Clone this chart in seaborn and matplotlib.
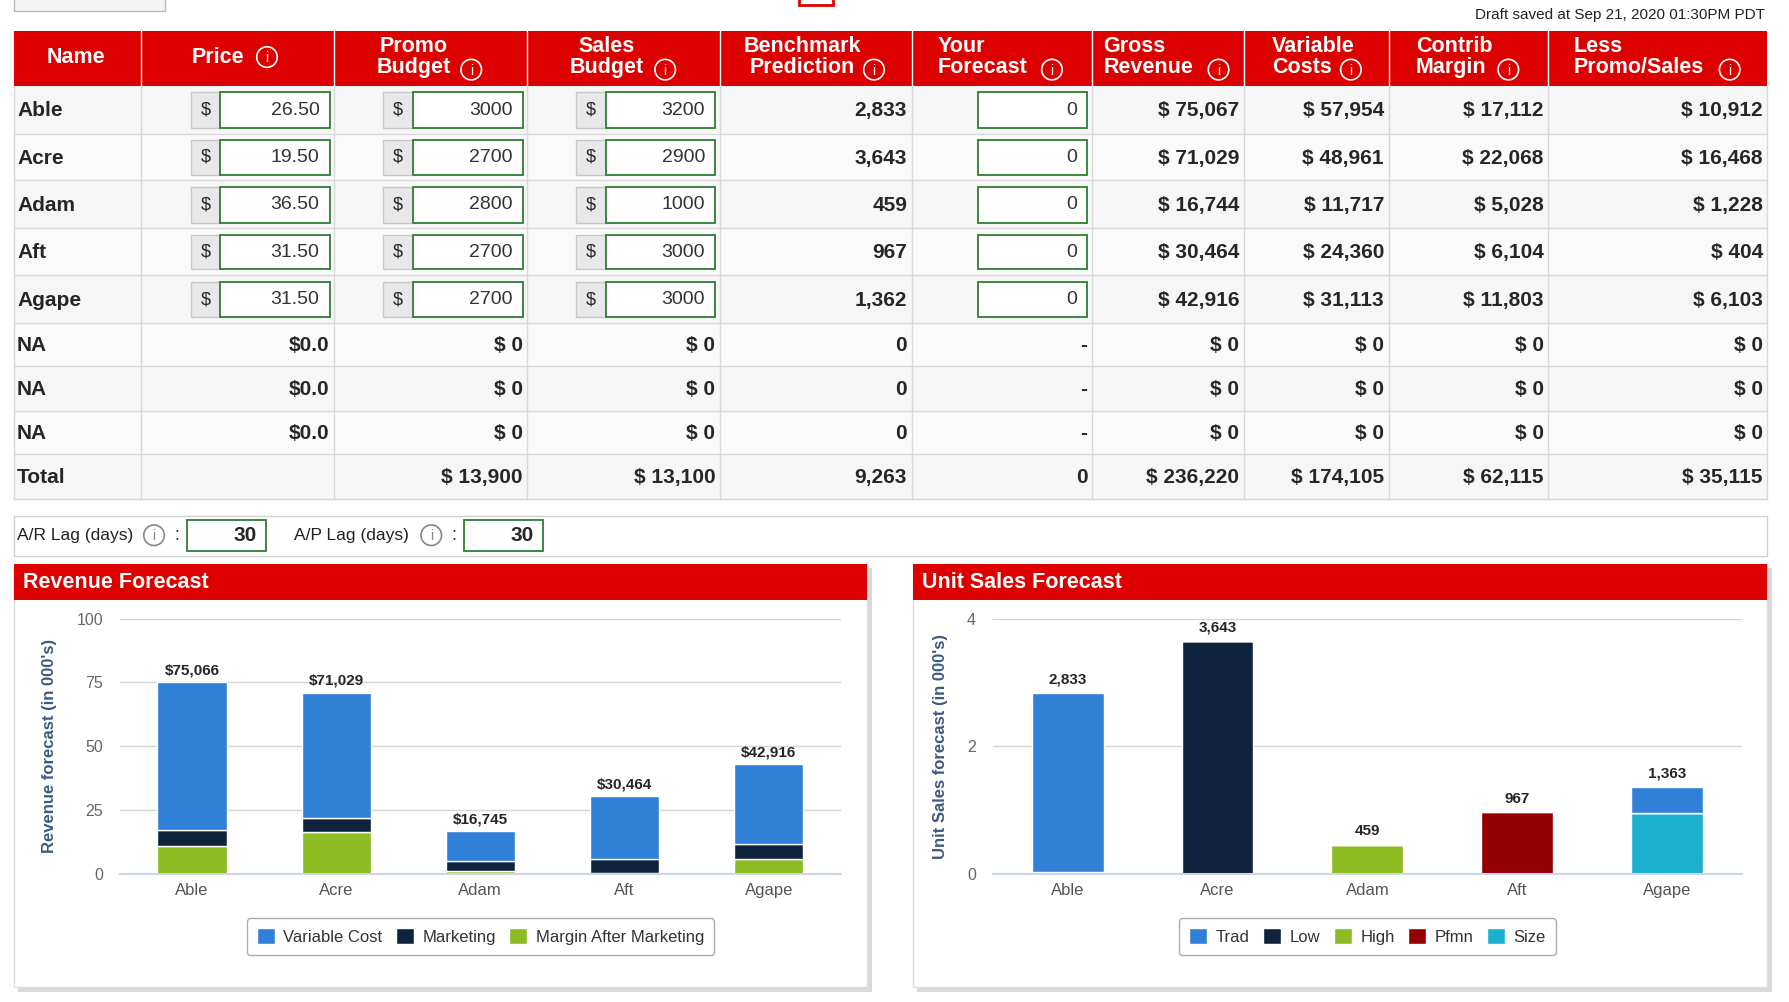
import matplotlib
matplotlib.use("Agg")
import matplotlib.pyplot as plt
from matplotlib.patches import Rectangle, Circle
import seaborn as sns
import pandas as pd
import numpy as np

sns.set_theme(style="white")
plt.rcParams['font.family'] = ['Liberation Sans', 'DejaVu Sans']

# ---------------- data ----------------
names = ['Able', 'Acre', 'Adam', 'Aft', 'Agape']
price = [26.50, 19.50, 36.50, 31.50, 31.50]
promo = [3000, 2700, 2800, 2700, 2700]
sales = [3200, 2900, 1000, 3000, 3000]
bench = [2833, 3643, 459, 967, 1362]
forecast = [0, 0, 0, 0, 0]
gross = [75067, 71029, 16744, 30464, 42916]
varcost = [57954, 48961, 11717, 24360, 31113]
contrib = [17112, 22068, 5028, 6104, 11803]
lesspromo = [10912, 16468, 1228, 404, 6103]
totals = ['', '$ 13,900', '$ 13,100', '9,263', '0', '$ 236,220', '$ 174,105', '$ 62,115', '$ 35,115']

rev_labels = ['$75,066', '$71,029', '$16,745', '$30,464', '$42,916']
rev_var = [57.95, 48.96, 11.72, 24.36, 31.11]
rev_mkt = [6.20, 5.60, 3.80, 5.70, 5.70]
rev_margin = [10.91, 16.47, 1.23, 0.40, 6.10]

unit_labels = ['2,833', '3,643', '459', '967', '1,363']
seg_names = ['Trad', 'Low', 'High', 'Pfmn', 'Size']
unit_low = [0.03, 3.643, 0, 0, 0]
unit_size = [0, 0, 0, 0, 0.950]
unit_high = [0, 0, 0.459, 0, 0]
unit_pfmn = [0, 0, 0, 0.967, 0]
unit_trad = [2.803, 0, 0, 0, 0.413]

RED = '#dd0000'
BLUE = '#3080d8'
NAVY = '#0f233c'
GREEN = '#8cbc22'
DRED = '#920000'
CYAN = '#1cafcf'

W, H = 1568, 878
fig = plt.figure(figsize=(17.89, 10.02), dpi=100)
fig.patch.set_facecolor('white')
bg = fig.add_axes([0, 0, 1, 1])
bg.set_xlim(0, W); bg.set_ylim(H, 0); bg.axis('off')

def rect(x0, y0, x1, y1, fc, ec='none', lw=1, z=1):
    bg.add_patch(Rectangle((x0, y0), x1 - x0, y1 - y0, facecolor=fc, edgecolor=ec, lw=lw, zorder=z))

def icon(x, y, color, r=9):
    bg.add_patch(Circle((x, y), r, facecolor='none', edgecolor=color, lw=1.2, zorder=5))
    bg.text(x, y + 1, 'i', color=color, fontsize=10, ha='center', va='center', zorder=6)

# top bits
rect(12, -5, 145, 10, '#f4f4f4', '#bbbbbb')
rect(700, -10, 730, 4, 'none', RED, lw=2)
bg.text(1547, 13, 'Draft saved at Sep 21, 2020 01:30PM PDT', fontsize=11, ha='right', va='center', color='#222222')

# ---------------- table ----------------
cols = [12, 124, 293, 462, 631, 799, 957, 1090, 1217, 1357, 1549]
rows = [75, 117, 158, 200, 241, 283, 321, 360, 398, 437]
rect(12, 27, 1549, 75, RED)
for c in cols[1:-1]:
    bg.plot([c, c], [27, 75], color='white', lw=1, zorder=2)
hdrs = [('Name', None, 41), ('Price', 234, 168), ('Promo\nBudget', 413, 330), ('Sales\nBudget', 583, 499),
        ('Benchmark\nPrediction', 766, 652), ('Your\nForecast', 922, 822), ('Gross\nRevenue', 1068, 967),
        ('Variable\nCosts', 1184, 1115), ('Contrib\nMargin', 1322, 1241), ('Less\nPromo/Sales', 1516, 1379)]
for t, ix, tx in hdrs:
    bg.text(tx, 50, t, color='white', fontsize=15.5, fontweight='bold', ha='left', va='center',
            multialignment='center' if tx < 700 else 'left', linespacing=0.95, zorder=3)
    if ix:
        icon(ix, 61 if '\n' in t else 50, 'white')

for i in range(len(rows) - 1):
    rect(12, rows[i], 1549, rows[i + 1], '#f6f6f6' if i % 2 == 0 else '#fafafa', z=0.5)
    bg.plot([12, 1549], [rows[i + 1], rows[i + 1]], color='#d8d8d8', lw=1, zorder=2)
for c in cols:
    bg.plot([c, c], [75, 437], color='#d8d8d8', lw=1, zorder=2)

def rt(col, y, s):
    bg.text(cols[col + 1] - 4, y, s, fontsize=15, fontweight='bold', ha='right', va='center', zorder=4)

def inbox(d0, b0, b1, y0, y1, val):
    if d0 is not None:
        rect(d0, y0, b0, y1, '#e8e8e8', '#c8c8c8', z=3)
        bg.text((d0 + b0) / 2, (y0 + y1) / 2, '$', fontsize=13, ha='center', va='center', zorder=4)
    rect(b0, y0, b1, y1, 'white', '#2e7d32', lw=1.3, z=3)
    bg.text(b1 - 9, (y0 + y1) / 2, val, fontsize=14, ha='right', va='center', color='#333333', zorder=4)

for i, n in enumerate(names):
    y0, y1 = rows[i], rows[i + 1]
    yc = (y0 + y1) / 2 + 1
    bg.text(15, yc, n, fontsize=15, fontweight='bold', ha='left', va='center', zorder=4)
    inbox(167, 193, 289, y0 + 6, y1 - 5, f'{price[i]:.2f}')
    inbox(336, 362, 458, y0 + 6, y1 - 5, f'{promo[i]}')
    inbox(505, 531, 627, y0 + 6, y1 - 5, f'{sales[i]}')
    rt(4, yc, f'{bench[i]:,}')
    inbox(None, 857, 953, y0 + 6, y1 - 5, f'{forecast[i]}')
    rt(6, yc, f'$ {gross[i]:,}')
    rt(7, yc, f'$ {varcost[i]:,}')
    rt(8, yc, f'$ {contrib[i]:,}')
    rt(9, yc, f'$ {lesspromo[i]:,}')
for j in range(3):
    i = 5 + j
    yc = (rows[i] + rows[i + 1]) / 2 + 1
    bg.text(15, yc, 'NA', fontsize=15, fontweight='bold', va='center', zorder=4)
    for col, s in zip(range(1, 10), ['$0.0', '$ 0', '$ 0', '0', '-', '$ 0', '$ 0', '$ 0', '$ 0']):
        rt(col, yc, s)
yc = (rows[8] + rows[9]) / 2 + 1
bg.text(15, yc, 'Total', fontsize=15, fontweight='bold', va='center', zorder=4)
for col, s in enumerate(totals):
    if s:
        rt(col + 1, yc, s)

# lag strip
rect(12, 452, 1549, 487, 'white', '#d0d0d0')
for lx, label in [(15, 'A/R Lag (days)'), (258, 'A/P Lag (days)')]:
    bg.text(lx, 469, label, fontsize=12.5, va='center', color='#222222')
    icon(lx + 120, 469, '#888888', r=9)
    bg.text(lx + 138, 469, ':', fontsize=13, va='center')
    rect(lx + 149, 456, lx + 218, 483, 'white', '#2e7d32', lw=1.3, z=3)
    bg.text(lx + 210, 469, '30', fontsize=15, fontweight='bold', ha='right', va='center', zorder=4)

# panels
for x0, x1, title in [(12, 760, 'Revenue Forecast'), (800, 1549, 'Unit Sales Forecast')]:
    rect(x0 + 4, 498, x1 + 4, 869, '#d9d9d9', z=0.2)
    rect(x0, 494, x1, 865, 'white', '#dddddd', z=0.3)
    rect(x0, 494, x1, 526, RED, z=0.4)
    bg.text(x0 + 8, 510, title, color='white', fontsize=15.5, fontweight='bold', va='center')

def add_ax(x0, y0, x1, y1):
    return fig.add_axes([x0 / W, 1 - y1 / H, (x1 - x0) / W, (y1 - y0) / H])

def style(ax, ymax, yticks, ylabel):
    ax.set_ylim(0, ymax)
    ax.set_xlim(-0.5, 4.5)
    ax.set_yticks(yticks)
    ax.yaxis.grid(True, color='#d5d5d5', lw=1)
    ax.set_axisbelow(True)
    for s in ['top', 'right', 'left']:
        ax.spines[s].set_visible(False)
    ax.spines['bottom'].set_color('#ccd6eb')
    ax.spines['bottom'].set_linewidth(1.5)
    ax.tick_params(axis='y', labelsize=11.5, labelcolor='#666666', length=0, pad=12)
    ax.tick_params(axis='x', labelsize=12, labelcolor='#555555', length=0, pad=6)
    ax.set_xticks([-0.5, 0.5, 1.5, 2.5, 3.5, 4.5], minor=True)
    ax.tick_params(axis='x', which='minor', length=8, color='#ccd6eb', width=1.2)
    ax.set_xlabel('')
    ax.set_ylabel(ylabel, fontsize=12, fontweight='bold', color='#3d5a80', labelpad=14)
    ax.set_facecolor('white')

# revenue chart
ax1 = add_ax(105, 542, 737, 766)
df = pd.DataFrame({'name': names, 'var': rev_var, 'mkt': rev_mkt, 'mar': rev_margin})
bw = 0.48
sns.barplot(data=df, x='name', y='mar', color=GREEN, width=bw, saturation=1, ax=ax1,
            edgecolor='white', linewidth=1, label='Margin After Marketing')
sns.barplot(data=df, x='name', y='mkt', bottom=df['mar'], color=NAVY, width=bw, saturation=1, ax=ax1,
            edgecolor='white', linewidth=1, label='Marketing')
sns.barplot(data=df, x='name', y='var', bottom=df['mar'] + df['mkt'], color=BLUE, width=bw, saturation=1,
            ax=ax1, edgecolor='white', linewidth=1, label='Variable Cost')
tot = df['var'] + df['mkt'] + df['mar']
for i, t in enumerate(tot):
    ax1.text(i, t + 2, rev_labels[i], ha='center', va='bottom', fontsize=11, fontweight='bold')
style(ax1, 100, [0, 25, 50, 75, 100], "Revenue forecast (in 000's)")
h, l = ax1.get_legend_handles_labels()
ax1.legend(h[::-1], l[::-1], loc='upper center', bbox_to_anchor=(0.5, -0.14), ncol=3, fontsize=12,
           frameon=True, fancybox=True, edgecolor='#999999', handlelength=1.1, handleheight=1.1,
           columnspacing=0.8, handletextpad=0.5, borderpad=0.6, labelcolor='#333333')

# unit chart
ax2 = add_ax(870, 542, 1527, 766)
du = pd.DataFrame({'name': names, 'Low': unit_low, 'Size': unit_size, 'High': unit_high,
                   'Pfmn': unit_pfmn, 'Trad': unit_trad})
bottom = np.zeros(5)
for seg, col in [('Low', NAVY), ('Size', CYAN), ('High', GREEN), ('Pfmn', DRED), ('Trad', BLUE)]:
    sns.barplot(data=du, x='name', y=seg, bottom=bottom, color=col, width=bw, saturation=1, ax=ax2,
                edgecolor='white', linewidth=1, label=seg)
    bottom = bottom + du[seg].values
for i, t in enumerate(bottom):
    ax2.text(i, t + 0.1, unit_labels[i], ha='center', va='bottom', fontsize=11, fontweight='bold')
style(ax2, 4, [0, 2, 4], "Unit Sales forecast (in 000's)")
h, l = ax2.get_legend_handles_labels()
order = [l.index(s) for s in seg_names]
ax2.legend([h[k] for k in order], [l[k] for k in order], loc='upper center', bbox_to_anchor=(0.5, -0.14),
           ncol=5, fontsize=12, frameon=True, fancybox=True, edgecolor='#999999', handlelength=1.1,
           handleheight=1.1, columnspacing=0.8, handletextpad=0.5, borderpad=0.6, labelcolor='#333333')

fig.savefig('out.png', dpi=100, facecolor='white')
